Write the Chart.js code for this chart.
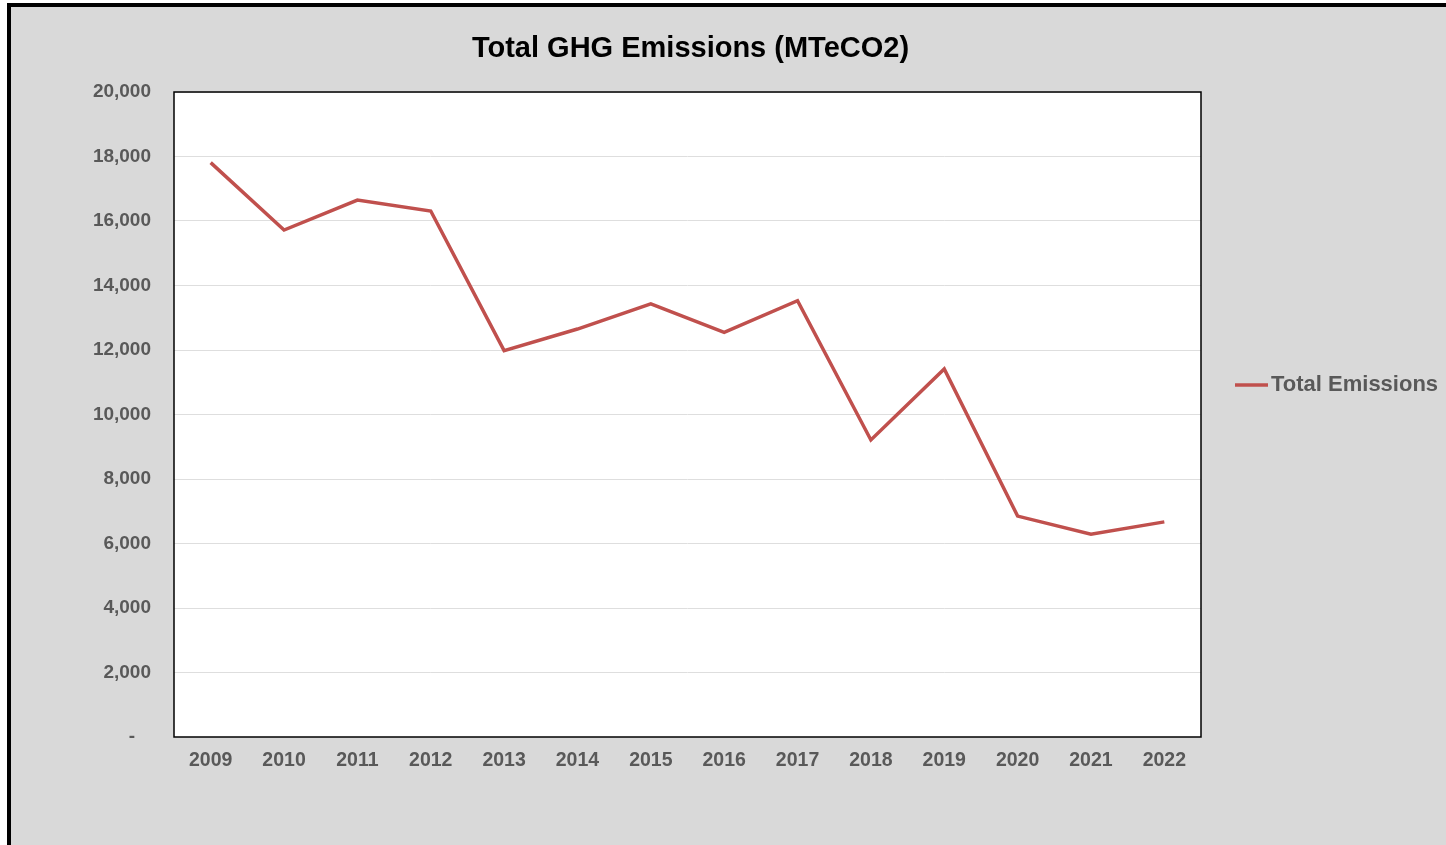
<!DOCTYPE html>
<html>
<head>
<meta charset="utf-8">
<script src="https://cdn.jsdelivr.net/npm/chart.js@4"></script>
<style>
    html, body { margin: 0; padding: 0; background: #fff; width: 1446px; height: 845px; overflow: hidden; }
    #frame {
        position: absolute; left: 7px; top: 3px; right: 0; bottom: 0;
        border-left: 4px solid #000; border-top: 4px solid #000;
        background: #d9d9d9;
    }
    #wrap { position: absolute; left: 0; top: 0; width: 1435px; height: 838px; }
</style>
</head>
<body>
<div id="frame"><div id="wrap"><canvas id="ghgChart"></canvas></div></div>
<script>
// Chart data
const years = ['2009', '2010', '2011', '2012', '2013', '2014', '2015', '2016', '2017', '2018', '2019', '2020', '2021', '2022'];
const totalEmissions = [17810, 15720, 16650, 16310, 11980, 12650, 13430, 12550, 13530, 9210, 11410, 6850, 6290, 6670];
const yTicks = [0, 2000, 4000, 6000, 8000, 10000, 12000, 14000, 16000, 18000, 20000];

const chartTitle = 'Total GHG Emissions (MTeCO2)';
const seriesName = 'Total Emissions';
const lineColor = '#c0504d';
const labelColor = '#595959';
const fontFamily = '"Liberation Sans", Arial, Helvetica, sans-serif';

// White plot background, title centred over the plot, legend on the right, box round the plot
const decorPlugin = {
    id: 'decor',
    beforeDraw(chart) {
        const a = chart.chartArea;
        chart.ctx.save();
        chart.ctx.fillStyle = '#fff';
        chart.ctx.fillRect(a.left, a.top, a.right - a.left, a.bottom - a.top);
        chart.ctx.restore();
    },
    afterDraw(chart) {
        const ctx = chart.ctx;
        const area = chart.chartArea;
        ctx.save();

        // plot border
        ctx.strokeStyle = '#000';
        ctx.lineWidth = 1.5;
        ctx.strokeRect(area.left, area.top, area.right - area.left, area.bottom - area.top);

        // title
        ctx.fillStyle = '#000';
        ctx.font = 'bold 29px ' + fontFamily;
        ctx.textAlign = 'center';
        ctx.textBaseline = 'middle';
        ctx.fillText(chartTitle, (area.left + area.right) / 2 + 3, 42);

        // legend
        const lx = area.right + 34;
        const ly = 378;
        ctx.strokeStyle = lineColor;
        ctx.lineWidth = 3.5;
        ctx.beginPath();
        ctx.moveTo(lx, ly);
        ctx.lineTo(lx + 33, ly);
        ctx.stroke();
        ctx.fillStyle = labelColor;
        ctx.font = 'bold 22px ' + fontFamily;
        ctx.textAlign = 'left';
        ctx.fillText(seriesName, lx + 36, ly);

        ctx.restore();
    }
};

const ctx = document.getElementById('ghgChart').getContext('2d');
new Chart(ctx, {
    type: 'line',
    data: {
        labels: years,
        datasets: [{
            label: seriesName,
            data: totalEmissions,
            borderColor: lineColor,
            borderWidth: 3.5,
            pointRadius: 0,
            tension: 0,
            fill: false
        }]
    },
    options: {
        responsive: true,
        maintainAspectRatio: false,
        animation: false,
        layout: {
            padding: { top: 85, right: 245, bottom: 0, left: 0 }
        },
        plugins: {
            legend: { display: false },
            title: { display: false },
            tooltip: { enabled: false }
        },
        scales: {
            x: {
                offset: true,
                grid: { display: false, drawTicks: false },
                border: { display: false },
                ticks: {
                    color: labelColor,
                    font: { family: fontFamily, size: 19.5, weight: 'bold' },
                    padding: 12,
                    maxRotation: 0
                },
                afterFit(scale) { scale.height = 108; }
            },
            y: {
                min: 0,
                max: 20000,
                afterBuildTicks(scale) {
                    scale.ticks = yTicks.map(v => ({ value: v }));
                },
                grid: { color: '#dedede', lineWidth: 1, drawTicks: false },
                border: { display: false },
                ticks: {
                    color: labelColor,
                    font: { family: fontFamily, size: 19, weight: 'bold' },
                    padding: 23,
                    callback: function(value) {
                        return value === 0 ? '-   ' : value.toLocaleString('en-US');
                    }
                },
                afterFit(scale) { scale.width = 163; }
            }
        }
    },
    plugins: [decorPlugin]
});
</script>
</body>
</html>
